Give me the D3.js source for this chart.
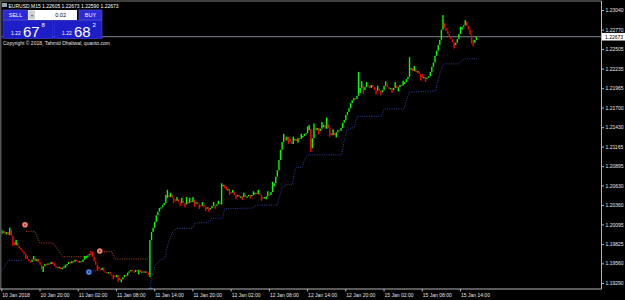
<!DOCTYPE html>
<html>
<head>
<meta charset="utf-8">
<script src="https://cdn.jsdelivr.net/npm/d3@7"></script>
<style>
  body { margin: 0; background: #000; }
  svg { display: block; }
</style>
</head>
<body>
<div id="chart"></div>
<script>
// EURUSD M15, prices kept in pips above 1.1900
const base = 1.19;
const firstOpen = 96;
const closes = [
  98,100,96,99,95,102,94,85,81,84,
  80,77,74,72,69,66,62,59,58,61,
  63,59,62,58,54,48,52,55,54,56,
  55,58,55,52,51,50,51,48,50,52,
  54,55,58,56,59,58,61,59,58,59,
  58,61,63,66,67,69,67,65,59,54,
  51,48,47,50,45,44,43,44,41,40,
  39,37,40,36,33,34,37,40,39,43,
  45,47,45,44,47,45,47,44,45,44,
  45,43,40,88,99,105,113,122,127,132,
  133,136,139,146,150,147,150,146,144,142,
  144,140,139,142,139,137,140,139,142,140,
  143,139,140,137,136,135,136,133,132,133,
  131,132,135,136,135,137,139,137,162,164,
  159,157,158,154,153,154,150,148,150,147,
  148,147,150,147,148,150,148,150,151,153,
  151,153,150,147,146,147,148,151,150,154,
  162,166,175,184,198,212,223,229,225,230,
  227,223,220,225,227,224,228,227,230,231,
  234,235,239,241,214,228,243,239,242,238,
  241,243,246,241,247,242,235,232,235,232,
  236,239,238,242,249,253,260,264,269,276,
  280,283,282,286,290,297,300,294,298,301,
  300,297,301,298,294,293,296,293,291,294,
  300,302,298,296,297,294,297,300,297,298,
  301,300,302,305,309,312,322,324,320,323,
  319,320,316,313,311,312,309,311,313,319,
  326,332,341,348,356,363,377,386,379,375,
  371,368,364,360,356,359,364,371,377,381,
  383,388,382,377,370,363,359,363,367
];
// [bar, pips] wick extremes that stick out of the bodies
const highWicks = [
  [0,102],[5,105],[9,88],[20,66],[33,56],[52,66],[56,73],[57,72],
  [103,150],[104,157],[106,153],[110,147],[113,146],[116,147],[118,146],[120,147],[126,140],[133,140],[136,142],
  [138,166],[141,161],[145,157],[152,153],[158,155],[161,157],[167,155],[170,168],
  [177,234],[183,230],[188,234],[192,244],[193,246],[196,248],[201,250],[204,256],[208,240],
  [224,319],[226,306],[229,305],[236,300],[241,306],[247,305],[252,307],
  [256,339],[259,327],[264,316],[277,397],[283,364],[288,381],[291,390]
];
const lowWicks = [
  [7,80],[15,62],[26,44],[40,50],[60,46],[70,34],[73,31],[75,30],[86,41],[93,37],
  [108,139],[112,135],[115,133],[121,134],[124,131],[128,128],[130,127],[134,131],
  [143,150],[147,144],[151,143],[156,145],[163,142],[166,144],
  [180,220],[186,222],[194,209],[199,233],[206,230],[210,229],
  [227,289],[235,288],[238,287],[245,290],[249,292],
  [263,307],[266,305],[284,351],[295,358],[296,354]
];

const priceTicks = [1.19290,1.19560,1.19825,1.20095,1.20360,1.20630,1.20895,1.21165,1.21430,1.21700,1.21965,1.22235,1.22505,1.22770,1.23040];
const timeLabels = ["10 Jan 2018","10 Jan 20:00","11 Jan 02:00","11 Jan 08:00","11 Jan 14:00","11 Jan 20:00","12 Jan 02:00","12 Jan 08:00","12 Jan 14:00","12 Jan 20:00","15 Jan 02:00","15 Jan 08:00","15 Jan 14:00"];
const barsPerLabel = 24;
const bid = 1.22673;

// trailing stop lines, [bar, pips]
const stopDown1 = [[15.5,100],[21,100],[24.2,84],[32.4,84],[38.7,65],[55.6,65]];
const stopDown2 = [[63,72],[69.4,72],[71.2,62],[92,62]];
const stopUp1 = [[0,45],[4.4,60],[13.6,60]];
const stopUp2 = [[56,46],[62,46]];
const stopUp3 = [[93.5,25],[94.5,37],[96.3,51],[99.4,60],[102.6,63],[103.8,74],[105.7,91],[107.6,99],[110.1,104],[120.1,104],[121.4,111],[130.8,113],[132,118],[138.9,118],[140.2,131],[157.7,132],[160.2,136],[173.4,136],[174.6,147],[176.5,161],[179,164],[182.8,164],[184,181],[185.3,188],[189,188],[190.3,198],[192.2,205],[213.5,205],[215.4,225],[217.2,239],[221.6,243],[223.5,258],[238.5,258],[240.4,268],[253,268],[254.8,283],[256.1,291],[273,293],[273.6,304],[276.8,326],[278,330],[287.4,330],[289.3,335],[291.8,337],[298.7,337]];

// signal dots [bar, pips, kind]
const signals = [[14.9,109,"sell"],[61.8,73,"sell"],[55,44,"buy"],[93.8,19,"buy"]];

const W = 625, H = 300;
const frame = {left: 1, right: 601.5, top: 1, bottom: 289};
const price = p => base + p / 10000;

const x = d3.scaleLinear().domain([0, 288]).range([1.3, 460]);
const y = d3.scaleLinear().domain([1.19290, 1.23040]).range([283, 10]);

const font = "'Liberation Sans', Arial, sans-serif";

const svg = d3.select('#chart')
    .append('svg')
    .attr('width', W)
    .attr('height', H)
    .style('background', '#000');

svg.append('defs').append('clipPath').attr('id', 'plot')
  .append('rect')
    .attr('x', frame.left + 0.5).attr('y', frame.top + 0.5)
    .attr('width', frame.right - frame.left - 1).attr('height', frame.bottom - frame.top - 1);

const plot = svg.append('g').attr('clip-path', 'url(#plot)');

// bid line
plot.append('line')
    .attr('x1', 0).attr('x2', frame.right)
    .attr('y1', y(bid)).attr('y2', y(bid))
    .attr('stroke', '#7c8590').attr('stroke-width', 1);

// trailing lines
const line = d3.line().x(d => x(d[0])).y(d => y(price(d[1])));
[stopDown1, stopDown2].forEach(s => plot.append('path')
    .attr('d', line(s)).attr('fill', 'none')
    .attr('stroke', '#b0452e').attr('stroke-width', 1).attr('stroke-dasharray', '1,1.3'));
[stopUp1, stopUp2, stopUp3].forEach(s => plot.append('path')
    .attr('d', line(s)).attr('fill', 'none')
    .attr('stroke', '#2c3f9c').attr('stroke-width', 1).attr('stroke-dasharray', '1,1.3'));

// candles
const hiMap = new Map(highWicks), loMap = new Map(lowWicks);
const bars = closes.map((c, i) => {
  const o = i === 0 ? firstOpen : closes[i - 1];
  let hi = Math.max(o, c), lo = Math.min(o, c);
  if (hiMap.has(i)) hi = Math.max(hi, hiMap.get(i));
  if (loMap.has(i)) lo = Math.min(lo, loMap.get(i));
  return {i, o, c, hi, lo};
});

plot.append('g')
  .selectAll()
  .data(bars)
  .join('rect')
    .attr('x', d => x(d.i) - 0.2)
    .attr('y', d => y(price(d.hi)))
    .attr('width', 1.4)
    .attr('height', d => Math.max(1.4, y(price(d.lo)) - y(price(d.hi))))
    .attr('fill', d => d.c >= d.o ? '#00ff00' : '#ff0000');

// signal dots
const dots = plot.append('g').selectAll().data(signals).join('g')
    .attr('transform', d => `translate(${x(d[0])},${y(price(d[1]))})`);
dots.append('circle').attr('r', 2.8)
    .attr('fill', d => d[2] === 'sell' ? '#f0806a' : '#4f7cf0');
dots.append('circle').attr('r', 1)
    .attr('fill', d => d[2] === 'sell' ? '#b83a28' : '#1c3aa8');

// frame
svg.append('line').attr('x1', 0).attr('x2', frame.right).attr('y1', frame.top).attr('y2', frame.top)
    .attr('stroke', '#555').attr('stroke-width', 1.5);
svg.append('line').attr('x1', 0.75).attr('x2', 0.75).attr('y1', frame.top).attr('y2', frame.bottom)
    .attr('stroke', '#555').attr('stroke-width', 1.5);

// price axis
const yAxis = svg.append('g')
    .attr('transform', `translate(${frame.right},0)`)
    .call(d3.axisRight(y).tickValues(priceTicks).tickSize(2.5).tickPadding(1.5).tickFormat(d3.format('.5f')));
yAxis.select('.domain').attr('d', `M0,${frame.top}V${frame.bottom}`).attr('stroke', '#b4b4b4');
yAxis.selectAll('.tick line').attr('stroke', '#b4b4b4');
yAxis.selectAll('text').attr('fill', '#e6e6e6').style('font', `5px ${font}`);

// time axis
const xAxis = svg.append('g')
    .attr('transform', `translate(0,${frame.bottom})`)
    .call(d3.axisBottom(x).tickValues(timeLabels.map((t, i) => i * barsPerLabel))
      .tickSize(2.5).tickPadding(2).tickFormat((d, i) => timeLabels[i]));
xAxis.select('.domain').attr('d', `M0,0H${frame.right}`).attr('stroke', '#b4b4b4');
xAxis.selectAll('.tick line').attr('stroke', '#b4b4b4');
xAxis.selectAll('text').attr('fill', '#e6e6e6').attr('text-anchor', 'start').attr('dx', 0.5)
    .style('font', `5px ${font}`);

// bid label
svg.append('rect').attr('x', frame.right + 0.5).attr('y', y(bid) - 3.8).attr('width', 23).attr('height', 7.6).attr('fill', '#fff');
svg.append('text').attr('x', frame.right + 3.5).attr('y', y(bid) + 1.8)
    .attr('fill', '#000').style('font', `5px ${font}`).text(d3.format('.5f')(bid));

// header
svg.append('rect').attr('x', 2).attr('y', 3).attr('width', 5).attr('height', 4).attr('fill', '#9aa0a8');
svg.append('text').attr('x', 8.5).attr('y', 7.5).attr('fill', '#fff').style('font', `5px ${font}`)
    .text('EURUSD,M15  1.22605 1.22673 1.22590 1.22673');

// one click trading panel
const panel = svg.append('g').style('font-family', font);
panel.append('rect').attr('x', 3).attr('y', 10).attr('width', 24.5).attr('height', 10)
    .attr('fill', '#2a2ad8').attr('stroke', '#5a5af0').attr('stroke-width', 0.6);
panel.append('text').attr('x', 15.5).attr('y', 17).attr('text-anchor', 'middle').attr('fill', '#fff').style('font-size', '5.5px').text('SELL');
panel.append('rect').attr('x', 28).attr('y', 10).attr('width', 49).attr('height', 10).attr('fill', '#fff');
panel.append('rect').attr('x', 28.5).attr('y', 10.5).attr('width', 6.5).attr('height', 9).attr('fill', '#cfcfcf');
panel.append('text').attr('x', 31.7).attr('y', 16.5).attr('text-anchor', 'middle').attr('fill', '#555').style('font-size', '4px').text('▾');
panel.append('text').attr('x', 66).attr('y', 17).attr('text-anchor', 'end').attr('fill', '#000').style('font-size', '5.5px').text('0.02');
panel.append('rect').attr('x', 79).attr('y', 10).attr('width', 23).attr('height', 10)
    .attr('fill', '#2a2ad8').attr('stroke', '#5a5af0').attr('stroke-width', 0.6);
panel.append('text').attr('x', 90.5).attr('y', 17).attr('text-anchor', 'middle').attr('fill', '#fff').style('font-size', '5.5px').text('BUY');

const quotes = [["1.22", "67", "8", 3, 50], ["1.22", "68", "2", 54, 48]];
quotes.forEach(([big, pips, point, x0, w]) => {
  panel.append('rect').attr('x', x0).attr('y', 20.5).attr('width', w).attr('height', 18)
      .attr('fill', '#1e1ec8').attr('stroke', '#4848e8').attr('stroke-width', 0.6);
  panel.append('text').attr('x', x0 + 8).attr('y', 35).attr('fill', '#fff').style('font-size', '5px').text(big);
  panel.append('text').attr('x', x0 + 20).attr('y', 36.5).attr('fill', '#fff').style('font-size', '15px').text(pips);
  panel.append('text').attr('x', x0 + 38.5).attr('y', 27).attr('fill', '#fff').style('font-size', '6px').text(point);
});

svg.append('text').attr('x', 3).attr('y', 44.5).attr('fill', '#e0e0e0').style('font', `5px ${font}`)
    .text('Copyright © 2018, Tahmid Dhaliwal, quanto.com');
</script>
</body>
</html>
